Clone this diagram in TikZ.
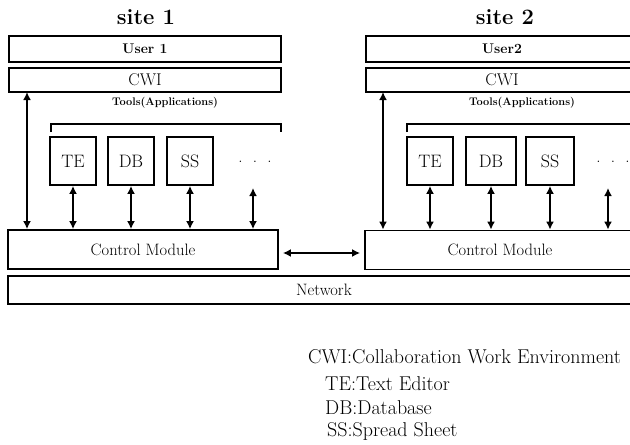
\documentclass[tikz,border=0pt]{standalone}
\usetikzlibrary{arrows.meta}
\begin{document}
\begin{tikzpicture}[x=1pt,y=-1pt,
  box/.style={draw,line width=1.8pt,inner sep=0pt,anchor=center},
  conn/.style={line width=2.2pt,{Latex[length=8pt,width=8pt]}-{Latex[length=8pt,width=8pt]}},
  tiny/.style={font=\bfseries\fontsize{11}{13}\selectfont},
  big/.style={font=\bfseries\fontsize{22}{25}\selectfont},
  mid/.style={font=\fontsize{17}{19}\selectfont},
  tool/.style={font=\fontsize{18}{20}\selectfont},
  ctrltext/.style={font=\fontsize{16.5}{19}\selectfont},
  usr/.style={font=\bfseries\fontsize{14}{16}\selectfont},
  leg/.style={font=\fontsize{20}{23}\selectfont,anchor=west,inner sep=0pt}]
\useasboundingbox (0,0) rectangle (630,445);
\clip (0,0) rectangle (630,445);
% ---- site 1
\node[big] (s1) at (146,17) {site 1};
\node[box,minimum width=272pt,minimum height=26pt,usr] (u1) at (145,49) {User 1};
\node[box,minimum width=272pt,minimum height=24pt,mid] (c1) at (145,80) {CWI};
\node[tiny] (t1) at (165,103) {Tools(Applications)};
\coordinate (b1a) at (51,132);
\coordinate (b1b) at (281,132);
\draw[line width=1.8pt] (b1a) -- ++(0,-8) -| (b1b);
\node[box,minimum width=46pt,minimum height=48pt,tool] (te1) at (73,161) {TE};
\node[box,minimum width=46pt,minimum height=48pt,tool] (db1) at (131,161) {DB};
\node[box,minimum width=46pt,minimum height=48pt,tool] (ss1) at (190,161) {SS};
\node[mid] (d1) at (255,162) {.\ \ .\ \ .};
\node[box,minimum width=270pt,minimum height=39pt,ctrltext] (cm1) at (143,249.5) {Control Module};
\coordinate (d1b) at (253,188);
\coordinate (l1) at (27,92);
\draw[conn] (te1.south) -- (te1.south |- cm1.north);
\draw[conn] (db1.south) -- (db1.south |- cm1.north);
\draw[conn] (ss1.south) -- (ss1.south |- cm1.north);
\draw[conn] (d1b) -- (d1b |- cm1.north);
\draw[conn] (l1) -- (l1 |- cm1.north);
% ---- site 2
\node[big] (s2) at (505,17) {site 2};
\node[box,minimum width=272pt,minimum height=26pt,usr] (u2) at (502,49) {User2};
\node[box,minimum width=272pt,minimum height=24pt,mid] (c2) at (502,80) {CWI};
\node[tiny] (t2) at (522,103) {Tools(Applications)};
\coordinate (b2a) at (407,132);
\coordinate (b2b) at (638,132);
\draw[line width=1.8pt] (b2a) -- ++(0,-8) -| (b2b);
\node[box,minimum width=46pt,minimum height=48pt,tool] (te2) at (430,161) {TE};
\node[box,minimum width=50pt,minimum height=48pt,tool] (db2) at (491,161) {DB};
\node[box,minimum width=48pt,minimum height=48pt,tool] (ss2) at (550,161) {SS};
\node[mid] (d2) at (613,162) {.\ \ .\ \ .};
\node[box,minimum width=270pt,minimum height=39pt,ctrltext] (cm2) at (500,250) {Control Module};
\coordinate (d2b) at (608,188);
\coordinate (l2) at (383,92);
\draw[conn] (te2.south) -- (te2.south |- cm2.north);
\draw[conn] (db2.south) -- (db2.south |- cm2.north);
\draw[conn] (ss2.south) -- (ss2.south |- cm2.north);
\draw[conn] (d2b) -- (d2b |- cm2.north);
\draw[conn] (l2) -- (l2 |- cm2.north);
% ---- network
\node[box,minimum width=632pt,minimum height=28pt,ctrltext] (net) at (324,290) {Network};
\draw[conn,shorten <=4pt,shorten >=4pt] (cm1.east |- 0,253) -- (cm2.west |- 0,253);
% ---- legend
\node[leg] (g1) at (308,357) {CWI:Collaboration Work Environment};
\node[leg] (g2) at (325,384) {TE:Text Editor};
\node[leg] (g3) at (325,408) {DB:Database};
\node[leg] (g4) at (327,431) {SS:Spread Sheet};
\end{tikzpicture}
\end{document}
